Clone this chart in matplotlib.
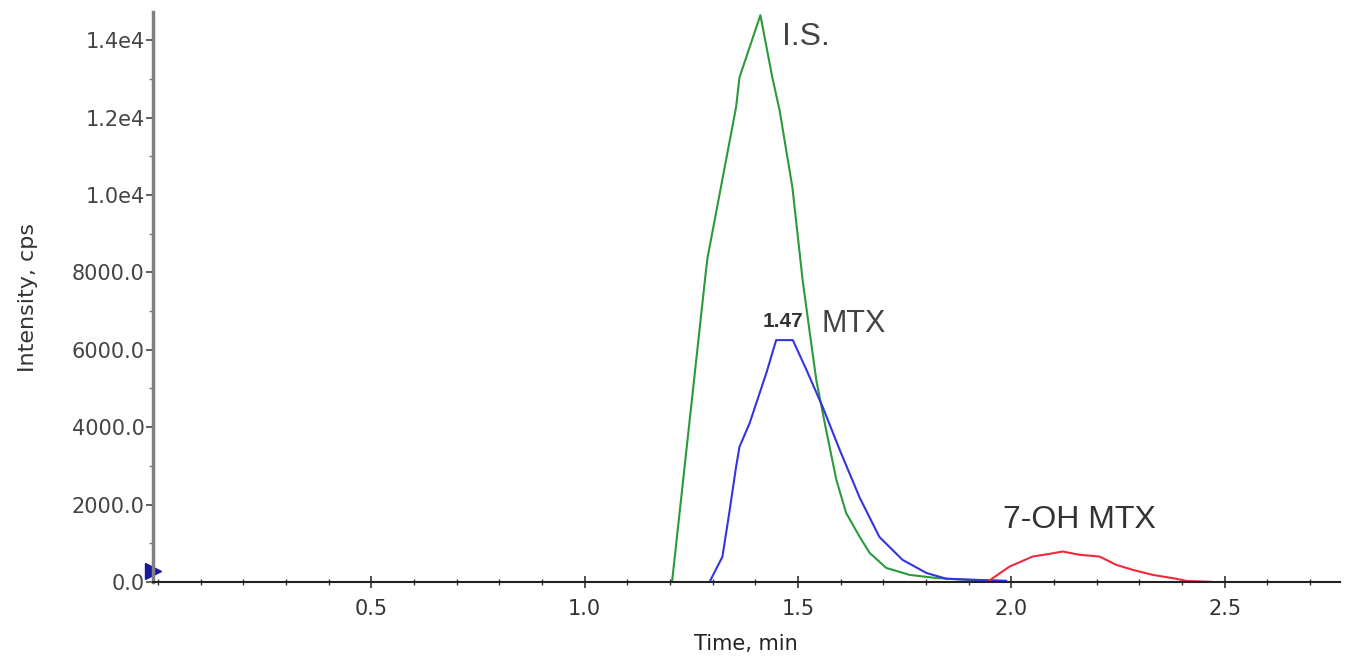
import matplotlib.pyplot as plt
from matplotlib.ticker import MultipleLocator, FixedLocator

plt.rcParams['font.family'] = ['DejaVu Sans']

# Internal standard trace (green)
is_time = [1.205, 1.285, 1.288, 1.355, 1.363, 1.412, 1.440, 1.457, 1.487, 1.511,
           1.527, 1.543, 1.566, 1.590, 1.613, 1.645, 1.668, 1.707, 1.762, 1.824,
           1.902, 1.987]
is_int = [0, 8100, 8370, 12270, 13040, 14650, 13040, 12190, 10200, 7800,
          6500, 5220, 3930, 2640, 1780, 1160, 750, 360, 180, 100,
          50, 25]

# MTX trace (blue)
mtx_time = [1.293, 1.323, 1.339, 1.355, 1.363, 1.387, 1.426, 1.449, 1.488, 1.520,
            1.558, 1.598, 1.645, 1.691, 1.745, 1.801, 1.848, 1.925, 1.988]
mtx_int = [0, 650, 1780, 2970, 3490, 4110, 5400, 6250, 6250, 5480,
           4520, 3410, 2170, 1160, 570, 230, 80, 50, 25]

# 7-OH MTX trace (red)
oh_time = [1.944, 1.996, 2.050, 2.090, 2.120, 2.160, 2.207, 2.246, 2.285, 2.332,
           2.387, 2.410, 2.469]
oh_int = [0, 395, 655, 725, 785, 700, 655, 440, 310, 180,
          80, 25, 0]

mtx_rt = 1.47
y_ticks = [0, 2000, 4000, 6000, 8000, 10000, 12000, 14000]
y_tick_labels = ['0.0', '2000.0', '4000.0', '6000.0', '8000.0', '1.0e4', '1.2e4', '1.4e4']
x_ticks = [0.5, 1.0, 1.5, 2.0, 2.5]

fig = plt.figure(figsize=(13.52, 6.56), dpi=100)
ax = fig.add_axes([0.113, 0.113, 0.878, 0.868])

ax.plot(is_time, is_int, color='#2a9a3a', lw=1.5)
ax.plot(mtx_time, mtx_int, color='#3535e0', lw=1.5)
ax.plot(oh_time, oh_int, color='#ee2a3c', lw=1.5)

ax.set_xlim(-0.012, 2.77)
ax.set_ylim(0, 14720)

ax.spines['top'].set_visible(False)
ax.spines['right'].set_visible(False)
ax.spines['left'].set_color('#808080')
ax.spines['left'].set_linewidth(2.5)
ax.spines['bottom'].set_color('#222222')
ax.spines['bottom'].set_linewidth(1.5)

ax.xaxis.set_major_locator(FixedLocator(x_ticks))
ax.xaxis.set_minor_locator(MultipleLocator(0.1))
ax.yaxis.set_major_locator(FixedLocator(y_ticks))
ax.set_yticklabels(y_tick_labels)
ax.yaxis.set_minor_locator(MultipleLocator(1000))
ax.tick_params(axis='x', which='major', direction='inout', length=8, width=1.2,
               labelsize=15, colors='#333333', pad=8)
ax.tick_params(axis='x', which='minor', direction='inout', length=4, width=1.0, colors='#333333')
ax.tick_params(axis='y', which='major', direction='out', length=5, width=1.2,
               labelsize=15, colors='#444444', pad=1)
ax.tick_params(axis='y', which='minor', direction='out', length=3, width=1.0, colors='#777777')

ax.set_xlabel('Time, min', fontsize=15, color='#222222', labelpad=11)
ax.set_ylabel('Intensity, cps', fontsize=16, color='#333333', labelpad=24)

# Peak labels
ax.text(1.462, 13870, 'I.S.', fontsize=23, color='#444444', va='baseline', ha='left',
        family='Liberation Sans')
ax.text(1.464, 6590, f'{mtx_rt:.2f}', fontsize=15, fontweight='bold', color='#333333',
        va='baseline', ha='center', family='Liberation Sans')
ax.text(1.555, 6460, 'MTX', fontsize=22, color='#444444', va='baseline', ha='left',
        family='Liberation Sans')
ax.text(2.160, 1395, '7-OH MTX', fontsize=23, color='#333333', va='baseline', ha='center',
        family='Liberation Sans')

# Threshold marker on the intensity axis
ax.plot([-0.012], [280], marker='>', markersize=12, color='#1a1aa0', clip_on=False)

fig.savefig('out.png', dpi=100)
